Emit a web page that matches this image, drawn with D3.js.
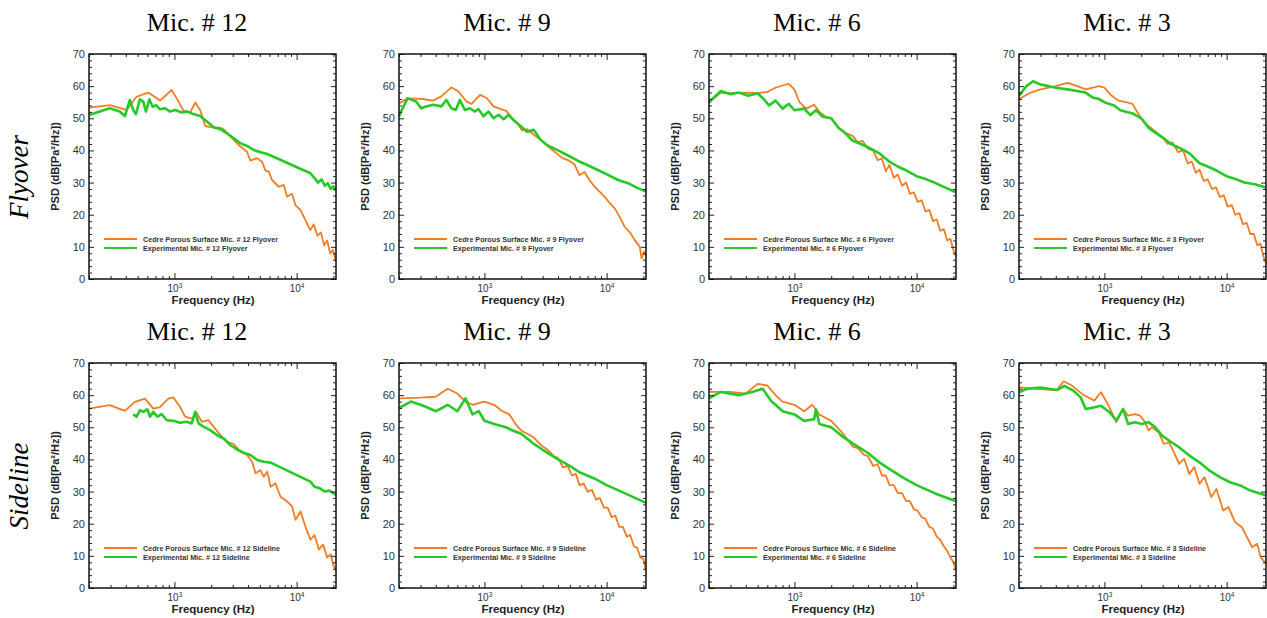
<!DOCTYPE html>
<html>
<head>
<meta charset="utf-8">
<script src="https://cdn.jsdelivr.net/npm/d3@7"></script>
<style>
  body { margin: 0; background: #fff; }
  svg text { font-family: "Liberation Sans", Arial, sans-serif; }
</style>
</head>
<body>
<svg id="chart" width="1267" height="618"></svg>
<script>
// microphones (columns) and configurations (rows)
var mics = ["12", "9", "6", "3"];
var configs = ["Flyover", "Sideline"];
var yTicks = [0, 10, 20, 30, 40, 50, 60, 70];
var xMajor = [1000, 10000];

// [frequency Hz, PSD dB]
var cedreFly12 = [[200,53.3],[296,54.1],[406,52.6],[490,56.7],[611,58],[763,55.5],[950,58.8],[1045,56.2],[1186,52.4],[1345,51.8],[1479,54.9],[1625,52.6],[1786,47.6],[2027,47.2],[2374,47.1],[2607,46.2],[2958,43.8],[3463,41.2],[3927,39.6],[4185,36.8],[4743,37.6],[5216,36.5],[5554,33.7],[5915,33.4],[6298,30.8],[7140,28.7],[7843,29.3],[8355,25.6],[9177,26.5],[9770,23],[10730,21.5],[11780,18.4],[12940,15.2],[13800,17],[14800,13.5],[15800,14.5],[16800,10.5],[17800,12],[18800,8],[19800,9],[21000,5.5]];
var expFly12 = [[200,51],[296,53.1],[357,52.1],[393,50.7],[432,55.7],[460,52.6],[484,51.3],[522,55.9],[556,55.2],[585,52.1],[623,55.9],[664,53.6],[707,54.1],[763,52.8],[838,53.1],[921,52.1],[1013,52.6],[1149,51.8],[1263,52.1],[1433,51.3],[1625,50.7],[1844,49],[2092,47.2],[2374,46.6],[2694,45.3],[3057,43.8],[3469,42.2],[3937,41.4],[4468,40.1],[5070,39.4],[5754,38.9],[12960,32.9],[14000,31.4],[15000,30],[16000,31],[17000,29],[18000,29.8],[19000,28],[20000,28.8],[21000,27.5]];

var cedreFly9 = [[200,54.6],[235,56.2],[313,56],[379,55.5],[444,56.8],[537,59.6],[610,58.4],[715,55.2],[786,54.5],[921,57.3],[1045,56.3],[1187,53.7],[1347,52.9],[1510,52.3],[1682,49.9],[1850,48.6],[2035,46.2],[2238,46.6],[2540,44.9],[2879,43.3],[3273,41.4],[3717,39.7],[4355,37.6],[4945,36.8],[5444,35.7],[5990,32.3],[6590,33.3],[7258,30.7],[7990,28.7],[8800,27.1],[9670,25.5],[10650,23.5],[11700,21.9],[12800,19.3],[14050,16.2],[15460,14.6],[17000,12.1],[18700,10],[19300,6.4],[20200,8.5],[21000,7]];
var expFly9 = [[200,50.6],[214,53.1],[235,56.2],[276,55.2],[304,53.1],[334,53.7],[379,54.2],[444,53.7],[488,55.7],[537,53.1],[583,52.6],[629,55.7],[692,52.6],[761,53.1],[837,52.1],[892,52.9],[981,50.6],[1079,52.1],[1187,50],[1306,51.1],[1436,49.7],[1578,51.1],[1736,49.4],[1971,47.6],[2238,45.8],[2540,46.4],[2879,43.3],[3273,41.6],[3958,40.1],[4795,38.5],[5800,36.8],[7005,35.4],[8476,33.9],[10250,32.4],[12400,30.8],[14990,29.8],[18130,28.2],[21000,27.2]];

var cedreFly6 = [[200,55],[250,58],[320,57.8],[400,58],[500,57.8],[600,58.2],[700,59.5],[800,60.2],[900,60.7],[1000,59],[1100,55],[1250,53],[1450,54.2],[1600,52],[1800,50.5],[2000,50],[2300,47],[2600,45.5],[3000,44.5],[3300,42.5],[3600,43],[4000,40.5],[4400,40],[4800,37],[5200,37.5],[5600,33.5],[6000,35.5],[6500,31.5],[7000,32.5],[7600,29],[8200,30],[8800,26.5],[9500,27],[10200,24],[11000,24.5],[11800,21],[12700,21.5],[13600,18],[14600,18.5],[15600,15],[16700,15.5],[17800,12],[18900,12.5],[20000,9],[21000,7]];
var expFly6 = [[200,55],[250,58.5],[300,57.5],[350,58],[420,57],[500,57.8],[560,56],[620,54],[700,55.5],[800,53],[900,54.5],[1000,52.5],[1200,53],[1350,51],[1500,52.5],[1700,50.5],[2000,50],[2300,47],[2500,46],[3000,43],[3500,42],[4000,41],[5000,39],[6000,36.5],[7000,35],[8000,34],[10000,32],[12000,31],[14000,30],[17000,28.5],[21000,27]];

var cedreFly3 = [[200,56],[250,58],[300,59],[400,60],[500,61],[600,60],[700,59],[800,59.5],[900,60],[1000,59.5],[1150,57],[1300,55.5],[1500,55],[1700,54.5],[1850,52],[2000,50],[2300,47.5],[2600,46],[3000,44],[3300,42],[3600,42.5],[4000,39.5],[4400,40],[4800,36],[5200,36.5],[5600,33],[6000,34],[6500,30.5],[7000,31],[7600,28],[8200,28.5],[8800,25.5],[9500,26],[10200,22.5],[11000,23],[11800,20],[12700,20.5],[13600,17],[14600,17.5],[15600,14],[16700,14],[17800,10.5],[18900,11],[20000,7],[21000,5]];
var expFly3 = [[200,57],[230,60],[260,61.5],[300,60.5],[350,60],[400,59.5],[500,59],[600,58.5],[700,58],[800,56.5],[900,56],[1000,55],[1200,54],[1350,52.5],[1500,52],[1700,51.5],[2000,50],[2300,47],[2500,46],[3000,44],[3500,42],[4000,41],[4500,40],[5000,39],[6000,36],[7000,35],[8000,34],[10000,32],[12000,31],[14000,30],[17000,29.5],[21000,28.5]];

var cedreSide12 = [[200,55.8],[296,56.9],[393,55.1],[475,57.9],[574,58.9],[672,55.8],[762,56.3],[893,58.9],[981,59.3],[1113,56.3],[1223,53.3],[1388,52.7],[1526,54.5],[1677,51.7],[1902,52.2],[2091,50.2],[2372,47.6],[2691,45.5],[3054,44.8],[3466,42.4],[3933,41.4],[4320,39.3],[4605,35.7],[5065,36.7],[5386,34.6],[5750,36.2],[6125,31.5],[6700,32.6],[7380,28.4],[8370,26.9],[9200,25.3],[9790,21.2],[10760,23.8],[11810,19.1],[12970,15],[14000,16.5],[15200,12],[16500,13.5],[17800,9.5],[19000,10.5],[20000,7],[21000,5.5]];
var expSide12 = [[460,54],[490,53.3],[522,55.3],[556,54.8],[600,55.6],[631,53.3],[672,54.8],[725,53.3],[787,54.1],[865,52.2],[981,52],[1113,51.4],[1263,51.7],[1388,51.2],[1479,54.8],[1575,51.2],[1730,50.2],[1963,49.1],[2228,47.6],[2528,46.5],[2867,44.5],[3254,43.1],[3692,42.1],[4190,41.4],[4755,39.8],[5386,39.3],[6125,39],[12970,33.1],[14000,31.5],[15500,31],[17000,30],[18500,30.3],[20000,29.5],[21000,29]];

var cedreSide9 = [[200,59],[300,59.2],[400,59.5],[500,62],[600,60.5],[700,58],[800,57],[900,57.5],[1000,58],[1200,57],[1400,55],[1600,54],[1800,51],[2000,49],[2500,47],[3000,44],[3300,43],[3700,41],[4000,40.5],[4400,37.5],[4800,38],[5200,35],[5600,35.5],[6000,32],[6500,32.5],[7000,30],[7600,30.5],[8200,27.5],[8800,28],[9500,25],[10200,25],[11000,22],[11800,22.5],[12700,19],[13600,19],[14600,16],[15600,16.5],[16700,13],[17800,12.5],[18900,9.5],[20000,9],[21000,5.5]];
var expSide9 = [[200,56],[250,58],[300,57],[350,56],[400,55],[450,56],[500,57],[600,55],[700,59],[800,54],[900,55],[1000,52],[1200,51],[1500,50],[1700,49],[2000,48],[2500,45],[3000,43],[4000,40],[5000,38],[6000,36],[8000,34],[10000,32],[14000,29.5],[21000,26.5]];

var cedreSide6 = [[200,61],[300,61],[400,60.5],[500,63.5],[600,63],[700,60],[800,58],[1000,57],[1200,55],[1400,57],[1600,54],[2000,52],[2500,48],[3000,44],[3300,43.5],[3700,41.5],[4000,41],[4400,38],[4800,38.5],[5200,35],[5600,35],[6000,32],[6500,32],[7000,29.5],[7600,29.5],[8200,27],[8800,27],[9500,24.5],[10200,24],[11000,22],[11800,21.5],[12700,19],[13600,18.5],[14600,16],[15600,15],[16700,13],[17800,11.5],[18900,9.5],[20000,8],[21000,5.5]];
var expSide6 = [[200,59],[250,61],[350,60],[450,61],[550,62],[650,58],[700,57],[800,55],[1000,54],[1200,52],[1450,52.5],[1500,55.5],[1600,51],[2000,50],[2500,47],[3000,45],[4000,42],[5000,39],[6000,37],[8000,34],[10000,32],[14000,29.5],[21000,27]];

var cedreSide3 = [[200,62.4],[297,61.9],[409,61.6],[464,64.3],[545,62.9],[660,60.3],[826,58.3],[938,60.9],[1066,57.2],[1251,51.6],[1422,55.7],[1564,53.6],[1778,54.1],[1956,53.6],[2154,51.6],[2297,49],[2448,50],[2783,48.4],[3064,44.8],[3373,45.3],[3710,42.2],[4084,38.6],[4494,40.2],[4945,35.5],[5442,37.6],[5990,32.4],[6590,34.5],[7493,28.3],[8254,30.8],[9380,24.1],[10330,25.2],[11730,20.5],[13340,18.9],[14690,15.8],[16150,12.7],[17780,13.8],[18950,9.6],[21000,7.6]];
var expSide3 = [[200,60.9],[230,61.9],[297,62.4],[409,61.6],[470,62.9],[562,61.3],[639,59.3],[703,55.7],[826,56.2],[938,56.7],[1100,54.7],[1251,52.1],[1422,55.7],[1564,51],[1778,51.6],[2021,51],[2297,51.6],[2610,50],[2966,47.4],[3373,45.9],[4084,43.8],[4945,41.2],[5990,39.1],[7260,36.5],[8790,34.5],[10660,32.9],[12920,31.9],[15650,30.3],[18950,29.3],[21000,28.8]];

var cedreSeries = [[cedreFly12, cedreFly9, cedreFly6, cedreFly3], [cedreSide12, cedreSide9, cedreSide6, cedreSide3]];
var expSeries = [[expFly12, expFly9, expFly6, expFly3], [expSide12, expSide9, expSide6, expSide3]];

var orange = "#f37c22", green = "#27c927";
var pw = 247, ph = 225;

var svg = d3.select("#chart");

var x = d3.scaleLog().domain([200, 21000]).range([0, pw]);
var y = d3.scaleLinear().domain([0, 70]).range([ph, 0]);

var line = d3.line()
  .x(function(d) { return x(d[0]); })
  .y(function(d) { return y(d[1]); });

// minor tick values
var xMinor = [];
[100, 1000, 10000].forEach(function(dec) {
  for (var k = 2; k <= 9; k++) {
    var v = dec * k;
    if (v >= 200 && v <= 21000) xMinor.push(v);
  }
});
var yMinor = d3.range(0, 71, 2).filter(function(v) { return v % 10 != 0; });

configs.forEach(function(cfg, r) {
  // row label
  svg.append("text")
    .attr("transform", "translate(28," + (177 + r * 309) + ") rotate(-90)")
    .attr("text-anchor", "middle")
    .style("font-family", "'Liberation Serif', 'Times New Roman', serif")
    .style("font-style", "italic")
    .style("font-size", "27px")
    .text(cfg);

  mics.forEach(function(mic, c) {
    var x0 = 89 + c * 310, y0 = 54 + r * 309;

    // title
    svg.append("text")
      .attr("x", x0 + 108).attr("y", y0 - 23)
      .attr("text-anchor", "middle")
      .style("font-family", "'Liberation Serif', 'Times New Roman', serif")
      .style("font-size", "26px")
      .text("Mic. # " + mic);

    var g = svg.append("g").attr("transform", "translate(" + x0 + "," + y0 + ")");

    // curves
    g.append("path").datum(cedreSeries[r][c])
      .attr("d", line).attr("fill", "none")
      .attr("stroke", orange).attr("stroke-width", 1.8)
      .attr("stroke-linejoin", "round");
    g.append("path").datum(expSeries[r][c])
      .attr("d", line).attr("fill", "none")
      .attr("stroke", green).attr("stroke-width", 2.6)
      .attr("stroke-linejoin", "round");

    // axes: ticks point inward
    var left = g.append("g").call(d3.axisLeft(y).tickValues(yTicks).tickSizeInner(-5).tickSizeOuter(0).tickPadding(4));
    g.append("g").call(d3.axisLeft(y).tickValues(yMinor).tickSize(-3).tickFormat(""));
    g.append("g").attr("transform", "translate(" + pw + ",0)")
      .call(d3.axisRight(y).tickValues(yTicks).tickSizeInner(-5).tickSizeOuter(0).tickFormat(""));
    g.append("g").attr("transform", "translate(" + pw + ",0)")
      .call(d3.axisRight(y).tickValues(yMinor).tickSize(-3).tickFormat(""));

    var bottom = g.append("g").attr("transform", "translate(0," + ph + ")")
      .call(d3.axisBottom(x).tickValues(xMajor).tickSizeInner(-6).tickSizeOuter(0).tickFormat(""));
    g.append("g").attr("transform", "translate(0," + ph + ")")
      .call(d3.axisBottom(x).tickValues(xMinor).tickSize(-3).tickFormat(""));
    g.append("g")
      .call(d3.axisTop(x).tickValues(xMajor).tickSizeInner(-6).tickSizeOuter(0).tickFormat(""));
    g.append("g")
      .call(d3.axisTop(x).tickValues(xMinor).tickSize(-3).tickFormat(""));

    g.selectAll(".domain").remove();
    g.selectAll(".tick line").attr("stroke", "#222");
    bottom.selectAll(".tick text").remove();

    left.selectAll(".tick text")
      .attr("fill", "#333").style("font-size", "11px")
      .style("font-family", "'Liberation Sans', Arial, sans-serif");

    // 10^3 / 10^4 labels
    bottom.selectAll(".tick").append("text")
      .attr("y", 13).attr("text-anchor", "middle")
      .attr("fill", "#333").style("font-size", "10px")
      .each(function(d) {
        var t = d3.select(this);
        t.append("tspan").text("10");
        t.append("tspan").attr("dy", -4).style("font-size", "6.5px").text(Math.round(Math.log10(d)));
      });

    // frame
    g.append("rect").attr("width", pw).attr("height", ph)
      .attr("fill", "none").attr("stroke", "#111").attr("stroke-width", 1.5);

    // axis titles
    g.append("text")
      .attr("x", 124).attr("y", 250)
      .attr("text-anchor", "middle")
      .style("font-size", "11.5px").style("font-weight", "bold").attr("fill", "#222")
      .text("Frequency (Hz)");
    g.append("text")
      .attr("transform", "translate(-30," + (ph / 2) + ") rotate(-90)")
      .attr("text-anchor", "middle")
      .style("font-size", "11px").style("font-weight", "bold").attr("fill", "#222")
      .text("PSD (dB[Pa\u00b2/Hz])");

    // legend
    var legend = [
      { label: "Cedre Porous Surface Mic. # " + mic + " " + cfg, color: orange },
      { label: "Experimental Mic. # " + mic + " " + cfg, color: green }
    ];
    legend.forEach(function(l, i) {
      var ly = 185 + i * 9;
      g.append("line").attr("x1", 15).attr("x2", 48).attr("y1", ly).attr("y2", ly)
        .attr("stroke", l.color).attr("stroke-width", 2);
      g.append("text").attr("x", 54).attr("y", ly + 2.5)
        .style("font-size", "7.2px").style("font-weight", "bold").attr("fill", "#333")
        .text(l.label);
    });
  });
});
</script>
</body>
</html>
